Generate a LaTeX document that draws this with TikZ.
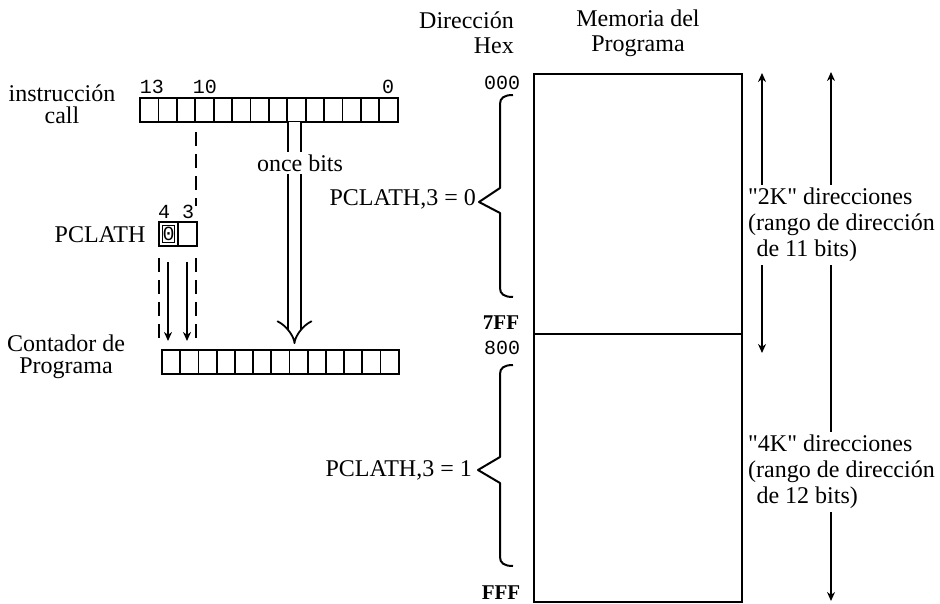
\documentclass[tikz,border=0pt]{standalone}
\usepackage{fontspec}
\setmainfont{Liberation Serif}[Ligatures=TeXOff]
\newfontfamily\numfont{Liberation Mono}
\usetikzlibrary{arrows.meta}
\begin{document}
\begin{tikzpicture}[x=1pt,y=-1pt,
  lbl/.style={inner sep=0pt,font=\fontsize{24}{26}\selectfont},
  tightlbl/.style={inner sep=0pt,font=\fontsize{24}{22}\selectfont},
  num/.style={inner sep=0pt,font=\fontsize{20}{22}\selectfont\numfont},
  hexlbl/.style={inner sep=0pt,font=\fontsize{21}{22}\selectfont\bfseries},
  cell/.style={draw,line width=1.8pt,minimum width=18.4pt,minimum height=24pt,inner sep=0pt,outer sep=0pt},
  pccell/.style={cell,minimum width=18.2pt},
  plcell/.style={cell,minimum width=19pt},
  dashline/.style={line width=1.8pt,dash pattern=on 14pt off 8pt},
  thinarrow/.style={line width=1.8pt,-{Stealth[length=9pt,width=8pt]}},
  bothends/.style={line width=1.8pt,{Stealth[length=9pt,width=8pt]}-{Stealth[length=9pt,width=8pt]}},
  bracepath/.style={line width=2pt,line join=round},
  memblock/.style={draw,line width=2pt,minimum width=208pt,inner sep=0pt,anchor=north west},
  cover/.style={fill=white,inner sep=3pt},
]
\useasboundingbox (0,0) rectangle (940,604);

% instruction register
\foreach \k in {0,...,13} \node[cell] (ic\k) at ({140+18.4*\k+9.2},110) {};
\node[num] (b13) at (152,87) {13};
\node[num] (b10) at (205,87) {10};
\node[num] (b0) at (388,87) {0};
\node[tightlbl,align=center] (instr) at (62,104) {instrucción\\call};

% PCLATH
\node[plcell] (pl4) at (168.5,234) {};
\node[plcell] (pl3) at (187.5,234) {};
\node[draw,line width=1.2pt,minimum width=12pt,minimum height=17pt,inner sep=0pt] (pl4in) at (pl4) {};
\node[num] (pl4v) at (pl4) {0};
\node[num] (b4) at (164,212) {4};
\node[num] (b3) at (188,212) {3};
\node[lbl] (pclath) at (100,235) {PCLATH};

% program counter
\foreach \k in {0,...,12} \node[pccell] (pc\k) at ({162+18.2*\k+9.1},362) {};
\node[tightlbl,align=center] (pclbl) at (66,357) {Contador de\\Programa};

% dashed guides
\coordinate (d1top) at (196,132);
\coordinate (d1bot) at (196,206);
\draw[dashline] (d1top) -- (d1bot);
\coordinate (d2top) at (159,258);
\coordinate (d2bot) at (159,344);
\draw[dashline] (d2top) -- (d2bot);
\coordinate (d3top) at (196,258);
\coordinate (d3bot) at (196,344);
\draw[dashline] (d3top) -- (d3bot);

% PCLATH arrows
\coordinate (a4top) at (168,262);
\coordinate (a4bot) at (168,341);
\draw[thinarrow] (a4top) -- (a4bot);
\coordinate (a3top) at (187,262);
\coordinate (a3bot) at (187,341);
\draw[thinarrow] (a3top) -- (a3bot);

% eleven bits double arrow
\coordinate (dtop) at (294.5,122);
\coordinate (dbot) at (294.5,344);
\draw[line width=1.8pt,double distance=11pt,-{Implies}] (dtop) -- (dbot);
\node[lbl,cover] (once) at (300,163) {once bits};

% memory
\node[memblock,minimum height=260pt] (memlo) at (533,73) {};
\node[memblock,minimum height=268pt] (memhi) at (533,333) {};
\node[lbl,align=right,anchor=east,font=\fontsize{24}{25}\selectfont] (dir) at (514,33) {Dirección\\Hex};
\node[lbl,align=center,font=\fontsize{24}{25}\selectfont] (memt) at (638,33) {Memoria del\\Programa};

\node[num] (h000) at (502,83) {000};
\node[hexlbl] (h7ff) at (501,323) {7FF};
\node[num] (h800) at (502,348) {800};
\node[hexlbl] (hfff) at (501,593) {FFF};

% braces
\draw[bracepath] (513,95) .. controls (504,95) and (500,98) .. (500,104) -- (500,188) -- (479,202) -- (500,213) -- (500,288) .. controls (500,294) and (504,297) .. (513,297);
\draw[bracepath] (513,365) .. controls (504,365) and (500,368) .. (500,374) -- (500,457) -- (478,470) -- (500,483) -- (500,557) .. controls (500,563) and (504,566) .. (513,566);
\node[lbl,anchor=east] (pc0lbl) at (476,199) {PCLATH,3 = 0};
\node[lbl,anchor=east] (pc1lbl) at (472,470) {PCLATH,3 = 1};

% range arrows
\coordinate (r2top) at (762,73);
\coordinate (r2bot) at (762,353);
\draw[bothends] (r2top) -- (r2bot);
\coordinate (r4top) at (831,72);
\coordinate (r4bot) at (831,601);
\draw[bothends] (r4top) -- (r4bot);
\node[lbl,align=left,anchor=west,cover] (k2) at (745,225) {"2K" direcciones\\(rango de dirección\\\hspace{0.35em}de 11 bits)};
\node[lbl,align=left,anchor=west,cover] (k4) at (745,472) {"4K" direcciones\\(rango de dirección\\\hspace{0.35em}de 12 bits)};
\end{tikzpicture}
\end{document}
